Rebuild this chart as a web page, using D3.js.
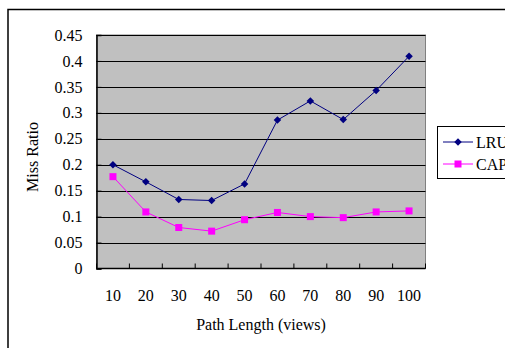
<!DOCTYPE html>
<html><head><meta charset="utf-8">
<script src="https://cdn.jsdelivr.net/npm/d3@7"></script>
<style>
html,body{margin:0;padding:0;background:#fff;overflow:hidden;}
text{font-family:"Liberation Serif","DejaVu Serif",serif;}
</style></head>
<body>
<svg id="c" width="505" height="348"></svg>
<script>
const categories = ["10","20","30","40","50","60","70","80","90","100"];
const lruValues = [0.200, 0.167, 0.133, 0.131, 0.163, 0.286, 0.323, 0.287, 0.343, 0.409];
const capValues = [0.177, 0.109, 0.079, 0.072, 0.094, 0.108, 0.100, 0.098, 0.109, 0.111];
const yTicks = [0, 0.05, 0.1, 0.15, 0.2, 0.25, 0.3, 0.35, 0.4, 0.45];
const seriesNames = ["LRU", "CAP"];

const svg = d3.select("#c");
const L = 96.5, R = 425.5, T = 35, B = 268.5;

// outer frame
svg.append("rect").attr("x",8).attr("y",9.5).attr("width",520).attr("height",360)
  .attr("fill","#fff").attr("stroke","#000").attr("stroke-width",1.5);

const x = d3.scaleBand().domain(categories).range([L, R]).padding(0);
const y = d3.scaleLinear().domain([0, 0.45]).range([B, T]);

// plot area
svg.append("rect").attr("x",L).attr("y",T).attr("width",R-L).attr("height",B-T)
  .attr("fill","#c0c0c0").attr("stroke","#808080").attr("stroke-width",1);

// gridlines
svg.append("g").selectAll("line").data(yTicks.filter(d=>d>0)).join("line")
  .attr("x1",L).attr("x2",R).attr("y1",d=>Math.round(y(d))+0.5).attr("y2",d=>Math.round(y(d))+0.5)
  .attr("stroke","#000").attr("stroke-width",1);

// y axis
const yAxis = d3.axisLeft(y).tickValues(yTicks).tickSize(-5).tickPadding(14)
  .tickFormat(d=>d===0?"0":String(+d.toFixed(2)));
const gy = svg.append("g").attr("transform",`translate(${L},0)`).call(yAxis);
gy.select(".domain").attr("stroke","#000").attr("stroke-width",1.5);
gy.selectAll(".tick line").attr("stroke","#000");
gy.selectAll(".tick text").attr("font-size",16).attr("fill","#000")
  .style("font-family",'"Liberation Serif",serif');

// x axis
const gx = svg.append("g").attr("transform",`translate(0,${B})`);
gx.append("line").attr("x1",L).attr("x2",R).attr("y1",0).attr("y2",0).attr("stroke","#000").attr("stroke-width",1.5);
const bounds = categories.map(c=>x(c)).concat([R]);
gx.selectAll("line.t").data(bounds).join("line").attr("class","t")
  .attr("x1",d=>d).attr("x2",d=>d).attr("y1",0).attr("y2",-5).attr("stroke","#000");
gx.selectAll("text").data(categories).join("text")
  .attr("x",d=>x(d)+x.bandwidth()/2).attr("y",32).attr("text-anchor","middle")
  .attr("font-size",16).attr("fill","#000").text(d=>d);

// axis titles
svg.append("text").attr("x",(L+R)/2).attr("y",330).attr("text-anchor","middle")
  .attr("font-size",16).text("Path Length (views)");
svg.append("text").attr("transform","translate(38,157) rotate(-90)").attr("text-anchor","middle")
  .attr("font-size",16).text("Miss Ratio");

const cx = d => x(d)+x.bandwidth()/2;
const line = d3.line().x((d,i)=>cx(categories[i])).y(d=>y(d));

// LRU
svg.append("path").datum(lruValues).attr("d",line).attr("fill","none").attr("stroke","#000080").attr("stroke-width",1);
const diamond = d3.symbol().type(d3.symbolDiamond2).size(36);
svg.append("g").selectAll("path").data(lruValues).join("path")
  .attr("transform",(d,i)=>`translate(${cx(categories[i])},${y(d)})`)
  .attr("d",diamond).attr("fill","#000080");

// CAP
svg.append("path").datum(capValues).attr("d",line).attr("fill","none").attr("stroke","#ff00ff").attr("stroke-width",1);
svg.append("g").selectAll("rect").data(capValues).join("rect")
  .attr("x",(d,i)=>cx(categories[i])-3.5).attr("y",d=>y(d)-3.5).attr("width",7).attr("height",7)
  .attr("fill","#ff00ff");

// legend
const lg = svg.append("g");
lg.append("rect").attr("x",437.5).attr("y",126.5).attr("width",100).attr("height",52)
  .attr("fill","#fff").attr("stroke","#000").attr("stroke-width",1);
const colors = ["#000080","#ff00ff"];
seriesNames.forEach((n,i)=>{
  const yy = 142 + i*22;
  lg.append("line").attr("x1",443).attr("x2",473).attr("y1",yy).attr("y2",yy).attr("stroke",colors[i]);
  if(i===0) lg.append("path").attr("transform",`translate(458,${yy})`).attr("d",diamond).attr("fill",colors[i]);
  else lg.append("rect").attr("x",454.5).attr("y",yy-3.5).attr("width",7).attr("height",7).attr("fill",colors[i]);
  lg.append("text").attr("x",476).attr("y",yy+5.5).attr("font-size",16).text(n);
});
</script>
</body></html>
